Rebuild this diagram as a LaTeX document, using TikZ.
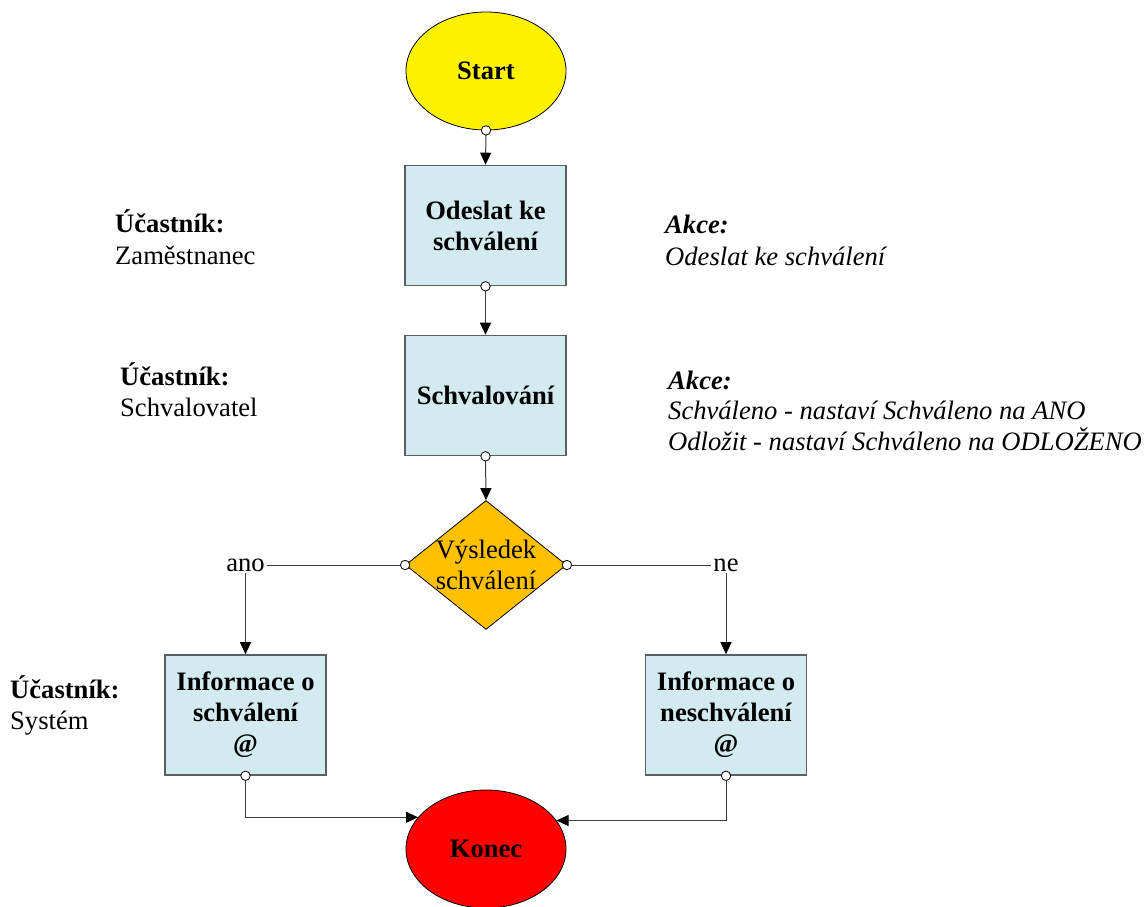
\documentclass[tikz,border=0pt]{standalone}
\usepackage{fontspec}
\setmainfont{Liberation Serif}
\usetikzlibrary{shapes.geometric,arrows.meta}
\definecolor{boxblue}{RGB}{210,234,240}
\definecolor{decision}{RGB}{255,192,0}
\definecolor{frame}{RGB}{90,95,100}
\definecolor{wire}{RGB}{60,60,60}
\begin{document}
\begin{tikzpicture}[x=1pt,y=-1pt,
  txt/.style={font=\fontsize{26.6}{31}\selectfont},
  task/.style={rectangle, draw=frame, line width=1.6pt, fill=boxblue,
    minimum width=161pt, minimum height=120pt, inner sep=0pt, align=center,
    font=\fontsize{26.6}{31}\selectfont\bfseries},
  term/.style={ellipse, draw=black, line width=0.8pt, minimum width=160pt,
    minimum height=118pt, inner sep=0pt, font=\fontsize{26.6}{31}\selectfont\bfseries},
  conn/.style={draw=wire, line width=1pt, -{Triangle[length=12pt,width=11pt,color=black]}},
  port/.style={draw=black, fill=white, line width=0.8pt},
  note/.style={anchor=base west, inner sep=0pt, font=\fontsize{26.6}{31}\selectfont},
  notehead/.style={note, font=\fontsize{26.6}{31}\selectfont\bfseries},
  act/.style={note, font=\fontsize{26.6}{31}\selectfont\itshape},
  acthead/.style={note, font=\fontsize{26.6}{31}\selectfont\bfseries\itshape}
]
\useasboundingbox (0,0) rectangle (1148,907);

% flow nodes
\node[term, fill=yellow] (start) at (486,71) {Start};
\node[task] (send) at (485.5,225.5) {Odeslat ke\\schválení};
\node[task] (appr) at (485.5,395.5) {Schvalování};
\node[diamond, draw=black, fill=decision, line width=0.8pt, inner sep=0pt,
  minimum width=161pt, minimum height=129pt,
  label={[txt, align=center]center:Výsledek\\schválení}] (dec) at (486,565) {};
\node[task] (yes) at (245.5,715) {Informace o\\schválení\\@};
\node[task] (no) at (726,715) {Informace o\\neschválení\\@};
\node[term, fill=red] (end) at (486,849) {Konec};

% connectors
\draw[conn] (start.south) -- (send.north);
\draw[conn] (send.south) -- (appr.north);
\draw[conn] (appr.south) -- (dec.north);
\draw[conn] (dec.west) -| node[pos=0.5, txt, fill=white, inner sep=2pt] (lyes) {ano} (yes.north);
\draw[conn] (dec.east) -| node[pos=0.5, txt, fill=white, inner sep=2pt] (lno) {ne} (no.north);
\draw[conn] (yes.south) |- (end.155);
\draw[conn] (no.south) |- (end.22);

% connection ports
\foreach \p in {start.south, send.south, appr.south, dec.west, dec.east, yes.south, no.south}
  \draw[port] (\p) circle (4.7pt);

% participants
\node[notehead] (u1) at (115,232) {Účastník:};
\node[note] (u1n) at (115,264) {Zaměstnanec};
\node[notehead] (u2) at (120,385) {Účastník:};
\node[note] (u2n) at (120,416) {Schvalovatel};
\node[notehead] (u3) at (10,698) {Účastník:};
\node[note] (u3n) at (10,729) {Systém};

% actions
\node[acthead] (a1) at (665,233) {Akce:};
\node[act] (a1n) at (665,265) {Odeslat ke schválení};
\node[acthead] (a2) at (668,389) {Akce:};
\node[act] (a2n) at (668,419) {Schváleno - nastaví Schváleno na ANO};
\node[act] (a2m) at (668,450) {Odložit - nastaví Schváleno na ODLOŽENO};
\end{tikzpicture}
\end{document}
